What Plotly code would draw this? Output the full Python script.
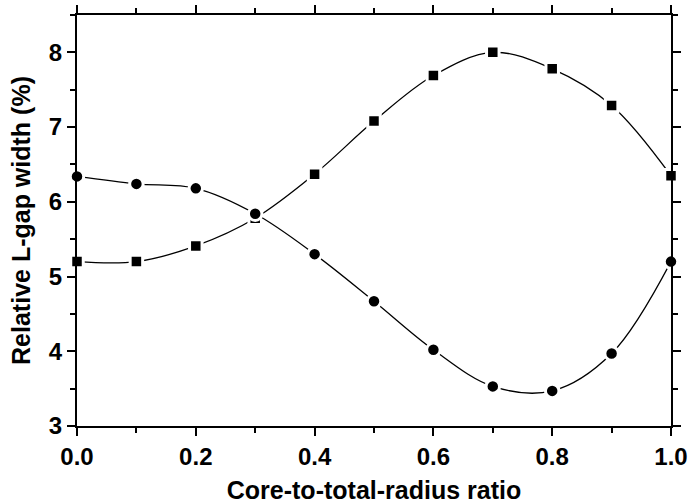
import plotly.graph_objects as go

ratio = [0.0, 0.1, 0.2, 0.3, 0.4, 0.5, 0.6, 0.7, 0.8, 0.9, 1.0]
gap_squares = [5.20, 5.20, 5.41, 5.78, 6.37, 7.08, 7.69, 8.00, 7.78, 7.29, 6.35]
gap_circles = [6.34, 6.24, 6.18, 5.84, 5.30, 4.67, 4.02, 3.53, 3.47, 3.97, 5.20]

x_title = "Core-to-total-radius ratio"
y_title = "Relative L-gap width (%)"

fig = go.Figure()
fig.add_trace(go.Scatter(
    x=ratio, y=gap_squares, mode="lines+markers",
    line=dict(color="black", width=1.3, shape="spline", smoothing=1),
    marker=dict(symbol="square", size=12.5, color="black",
                line=dict(color="white", width=3)),
    cliponaxis=False, showlegend=False))
fig.add_trace(go.Scatter(
    x=ratio, y=gap_circles, mode="lines+markers",
    line=dict(color="black", width=1.3, shape="spline", smoothing=1),
    marker=dict(symbol="circle", size=13.5, color="black",
                line=dict(color="white", width=3)),
    cliponaxis=False, showlegend=False))

font_family = "Liberation Sans, Arial, sans-serif"
axis_common = dict(
    showgrid=False, zeroline=False, showline=True, linecolor="black",
    linewidth=2, mirror="ticks", ticks="outside", ticklen=8, tickwidth=2,
    tickcolor="black", automargin=False,
    tickfont=dict(family=font_family, size=24, color="black", weight="bold"),
)

fig.update_xaxes(
    range=[0, 1], tickmode="linear", tick0=0, dtick=0.2, tickformat=".1f",
    minor=dict(dtick=0.1, ticklen=5, tickwidth=2, ticks="outside", tickcolor="black"),
    title=dict(text=x_title, standoff=18,
               font=dict(family=font_family, size=25, color="black", weight="bold")),
    **axis_common)
fig.update_yaxes(
    range=[3, 8.5], tickmode="linear", tick0=3, dtick=1,
    minor=dict(dtick=0.5, ticklen=5, tickwidth=2, ticks="outside", tickcolor="black"),
    title=dict(text=y_title, standoff=11,
               font=dict(family=font_family, size=25, color="black", weight="bold")),
    **axis_common)

fig.update_layout(
    width=688, height=504,
    margin=dict(l=77, r=17, t=15, b=78),
    paper_bgcolor="white", plot_bgcolor="white",
)

fig.write_html("out.html")
